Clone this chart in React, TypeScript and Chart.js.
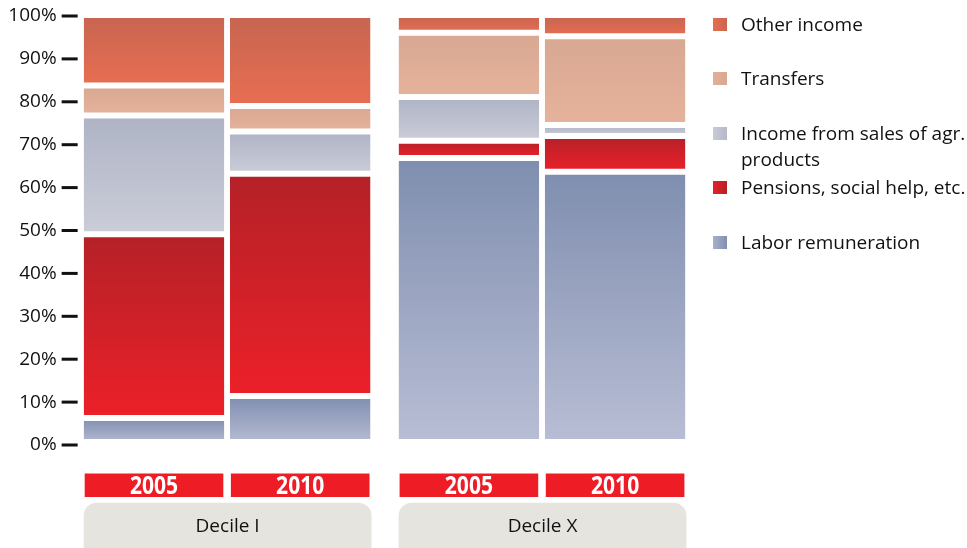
import React, { useEffect, useRef } from 'react';
import { Chart, registerables } from 'chart.js';

Chart.register(...registerables);

// ---- Data ----
const deciles = ['Decile I', 'Decile X'];
const years = ['2005', '2010'];
const seriesNames = [
  'Labor remuneration',
  'Pensions, social help, etc.',
  'Income from sales of agr. products',
  'Transfers',
  'Other income',
];

// shares (%) per decile [Decile I, Decile X]
const labor2005 = [6.3, 66.9];
const labor2010 = [11.4, 63.7];
const pensions2005 = [42.8, 4.0];
const pensions2010 = [51.8, 8.3];
const agrSales2005 = [27.7, 10.2];
const agrSales2010 = [9.9, 2.6];
const transfers2005 = [7.0, 15.0];
const transfers2010 = [5.9, 20.7];
const other2005 = [16.2, 3.9];
const other2010 = [21.0, 4.7];

const yTickValues = [0, 10, 20, 30, 40, 50, 60, 70, 80, 90, 100];

// series -> [2005 values, 2010 values]
const values: number[][][] = [
  [labor2005, labor2010],
  [pensions2005, pensions2010],
  [agrSales2005, agrSales2010],
  [transfers2005, transfers2010],
  [other2005, other2010],
];

const topColors = ['#7F8EAF', '#B42127', '#AEB3C5', '#D8A892', '#C76550'];
const bottomColors = ['#B9BED5', '#EC2029', '#CBCDD8', '#E6B29B', '#E86E52'];
const legendLeft = ['#A9B0CA', '#E52128', '#C9CBD6', '#E3AE98', '#E86E50'];
const legendRight = ['#8190B0', '#B52025', '#B4B8C8', '#D8A891', '#C96550'];

const makeBg = (s: number, yi: number) => (ctx: any) => {
  const chart = ctx.chart;
  const yScale = chart.scales && chart.scales.y;
  if (ctx.type !== 'data' || !yScale || !chart.chartArea) return bottomColors[s];
  const i = ctx.dataIndex;
  let start = 0;
  for (let k = 0; k < s; k++) start += values[k][yi][i];
  const end = start + values[s][yi][i];
  const yT = yScale.getPixelForValue(end);
  const yB = yScale.getPixelForValue(start);
  if (!isFinite(yT) || !isFinite(yB) || yT === yB) return bottomColors[s];
  const g = chart.ctx.createLinearGradient(0, yT, 0, yB);
  g.addColorStop(0, topColors[s]);
  g.addColorStop(1, bottomColors[s]);
  return g;
};

const decorPlugin = {
  id: 'decor',
  afterDraw(chart: any) {
    const { ctx, chartArea, scales } = chart;
    const y = scales.y;
    ctx.save();
    // tick dashes
    ctx.fillStyle = '#111';
    y.ticks.forEach((_: any, i: number) => {
      const py = y.getPixelForTick(i);
      ctx.fillRect(chartArea.left - 8, py - 1.5, 16, 3);
    });
    const m0 = chart.getDatasetMeta(0);
    const m1 = chart.getDatasetMeta(1);
    deciles.forEach((d, i) => {
      const bars = [m0.data[i], m1.data[i]];
      bars.forEach((el: any, yi: number) => {
        const l = el.x - el.width / 2;
        const r = el.x + el.width / 2;
        ctx.fillStyle = '#EE1D25';
        ctx.fillRect(l + 1, chartArea.bottom + 28.5, r - l - 2, 23.5);
        ctx.fillStyle = '#ffffff';
        ctx.font = 'bold 24.5px "Open Sans", sans-serif';
        ctx.textAlign = 'center';
        ctx.textBaseline = 'alphabetic';
        ctx.save();
        ctx.translate(el.x, chartArea.bottom + 49.3);
        ctx.scale(0.86, 1);
        ctx.fillText(years[yi], 0, 0);
        ctx.restore();
      });
      const gl = bars[0].x - bars[0].width / 2;
      const gr = bars[1].x + bars[1].width / 2 + 1;
      ctx.fillStyle = '#E5E4DE';
      ctx.beginPath();
      ctx.roundRect(gl, chartArea.bottom + 57.7, gr - gl, 80, [13, 13, 0, 0]);
      ctx.fill();
      ctx.fillStyle = '#111';
      ctx.font = '19px "Open Sans", sans-serif';
      ctx.textAlign = 'center';
      ctx.fillText(d, (gl + gr) / 2, chartArea.bottom + 86.7);
    });
    ctx.restore();
  },
};

export default function App() {
  const ref = useRef<HTMLCanvasElement | null>(null);

  useEffect(() => {
    if (!ref.current) return;
    const datasets: any[] = [];
    values.forEach((pair, s) => {
      pair.forEach((arr, yi) => {
        datasets.push({
          label: seriesNames[s] + ' ' + years[yi],
          data: arr,
          stack: years[yi],
          backgroundColor: makeBg(s, yi),
          borderColor: '#ffffff',
          borderWidth: { top: s === 4 ? 2 : 3, bottom: s === 0 ? 6 : 3, left: 0, right: 0 },
          borderSkipped: false,
          categoryPercentage: 0.9285,
          barPercentage: 0.962,
        });
      });
    });
    const chart = new Chart(ref.current, {
      type: 'bar',
      data: { labels: deciles, datasets },
      options: {
        animation: false,
        responsive: false,
        layout: { padding: { top: 16, bottom: 103, left: 0, right: 267.55 } },
        plugins: { legend: { display: false }, tooltip: { enabled: false } },
        scales: {
          x: { display: false, stacked: true },
          y: {
            stacked: true,
            min: 0,
            max: 100,
            afterFit: (s: any) => {
              s.width = 69.65;
              s.paddingTop = 0;
              s.paddingBottom = 0;
            },
            afterBuildTicks: (s: any) => {
              s.ticks = yTickValues.map((v) => ({ value: v }));
            },
            grid: { display: false, drawTicks: false },
            border: { display: false },
            ticks: {
              padding: 13,
              color: '#111',
              font: { family: '"Open Sans", sans-serif', size: 19 },
              callback: (v: any) => v + '%',
            },
          },
        },
      } as any,
      plugins: [decorPlugin],
    });
    return () => chart.destroy();
  }, []);

  const legendItems = [4, 3, 2, 1, 0];

  return (
    <div style={{ position: 'fixed', left: 0, top: 0, width: 967, height: 548, background: '#fff' }}>
      <canvas ref={ref} width={967} height={548} style={{ display: 'block' }} />
      {legendItems.map((s, idx) => {
        const top = 11 + idx * 54.4;
        const name = seriesNames[s];
        const parts = s === 2 ? ['Income from sales of agr.', 'products'] : [name];
        return (
          <div key={s}>
            <div
              style={{
                position: 'absolute',
                left: 713,
                top: top + 7,
                width: 13.5,
                height: 13,
                background: `linear-gradient(to right, ${legendLeft[s]}, ${legendRight[s]})`,
              }}
            />
            <div
              style={{
                position: 'absolute',
                left: 741,
                top,
                fontFamily: '"Open Sans", sans-serif',
                fontSize: 19,
                lineHeight: '26px',
                color: '#111',
                whiteSpace: 'nowrap',
              }}
            >
              {parts.map((p, k) => (
                <div key={k}>{p}</div>
              ))}
            </div>
          </div>
        );
      })}
    </div>
  );
}
